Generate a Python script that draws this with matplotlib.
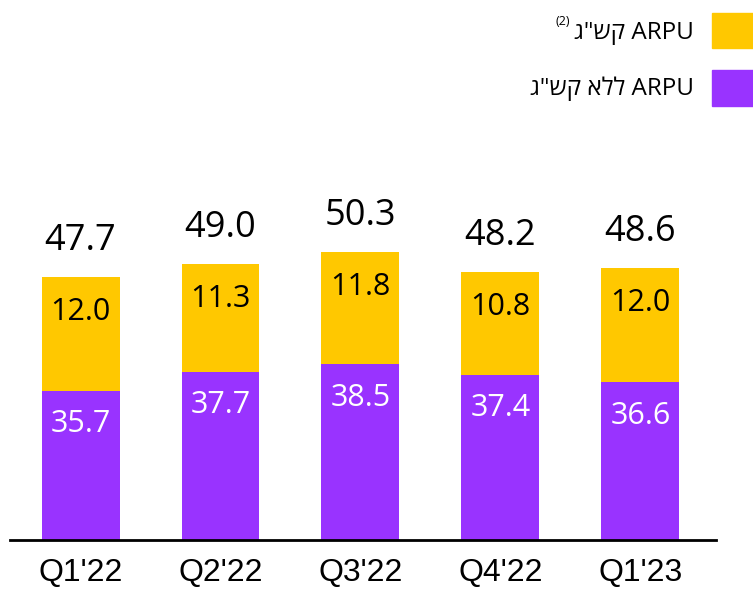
import matplotlib
matplotlib.use('Agg')
import matplotlib.pyplot as plt
from matplotlib.patches import Rectangle
import numpy as np

# data
quarters = ["Q1'22", "Q2'22", "Q3'22", "Q4'22", "Q1'23"]
arpu_no_roaming = [35.7, 37.7, 38.5, 37.4, 36.6]   # purple, bottom
arpu_roaming = [12.0, 11.3, 11.8, 10.8, 12.0]      # yellow, top
arpu_total = [47.7, 49.0, 50.3, 48.2, 48.6]

# legend labels (hebrew in visual order, matplotlib has no bidi)
label_roaming = 'ג"שק ARPU'
label_no_roaming = 'ג"שק אלל ARPU'

YELLOW = '#FFC800'
PURPLE = '#9933FF'
W, H = 753, 598

num_font = ['Open Sans', 'DejaVu Sans']
heb_font = ['Open Sans', 'DejaVu Sans']

fig = plt.figure(figsize=(W / 100, H / 100), dpi=100)
ax = fig.add_axes([10 / W, (H - 540) / H, 706 / W, 332.5 / H])

x = np.arange(len(quarters))
bw = 0.557
ax.bar(x, arpu_no_roaming, bw, color=PURPLE, zorder=2)
ax.bar(x, arpu_roaming, bw, bottom=arpu_no_roaming, color=YELLOW, zorder=2)

ax.set_xlim(-0.504, 4.54)
ax.set_ylim(20, 55)

for i in range(len(x)):
    bottom_top = arpu_no_roaming[i]
    total_top = arpu_no_roaming[i] + arpu_roaming[i]
    ax.annotate('%.1f' % arpu_no_roaming[i], xy=(x[i], bottom_top),
                xytext=(0, -24), textcoords='offset points',
                ha='center', va='center', color='white',
                fontsize=22, family=num_font)
    ax.annotate('%.1f' % arpu_roaming[i], xy=(x[i], total_top),
                xytext=(0, -25), textcoords='offset points',
                ha='center', va='center', color='black',
                fontsize=22, family=num_font)
    ax.annotate('%.1f' % arpu_total[i], xy=(x[i], total_top),
                xytext=(0, 26), textcoords='offset points',
                ha='center', va='center', color='black',
                fontsize=26, family=num_font)

for s in ['top', 'right', 'left']:
    ax.spines[s].set_visible(False)
ax.spines['bottom'].set_linewidth(2)
ax.spines['bottom'].set_color('black')
ax.set_yticks([])
ax.set_xticks(x)
ax.set_xticklabels(quarters, fontsize=23,
                   family=['Liberation Sans Narrow', 'Liberation Sans'])
ax.tick_params(axis='x', length=0, pad=13)

# legend, drawn by hand (squares on the right side)
fig.patches.append(Rectangle((712 / W, 1 - 48 / H), 41 / W, 35 / H,
                             color=YELLOW, transform=fig.transFigure))
fig.patches.append(Rectangle((712 / W, 1 - 106 / H), 41 / W, 36 / H,
                             color=PURPLE, transform=fig.transFigure))
t1 = fig.text(694 / W, 1 - 33 / H, label_roaming, ha='right', va='center',
              fontsize=17.5, family=heb_font)
fig.text(694 / W, 1 - 89 / H, label_no_roaming, ha='right', va='center',
         fontsize=17.5, family=heb_font)
ax.annotate('(2)', xy=(0, 1), xycoords=t1, xytext=(-3, 4),
            textcoords='offset points', ha='right', va='top',
            fontsize=9, family=heb_font)

fig.savefig('out.png', dpi=100)
